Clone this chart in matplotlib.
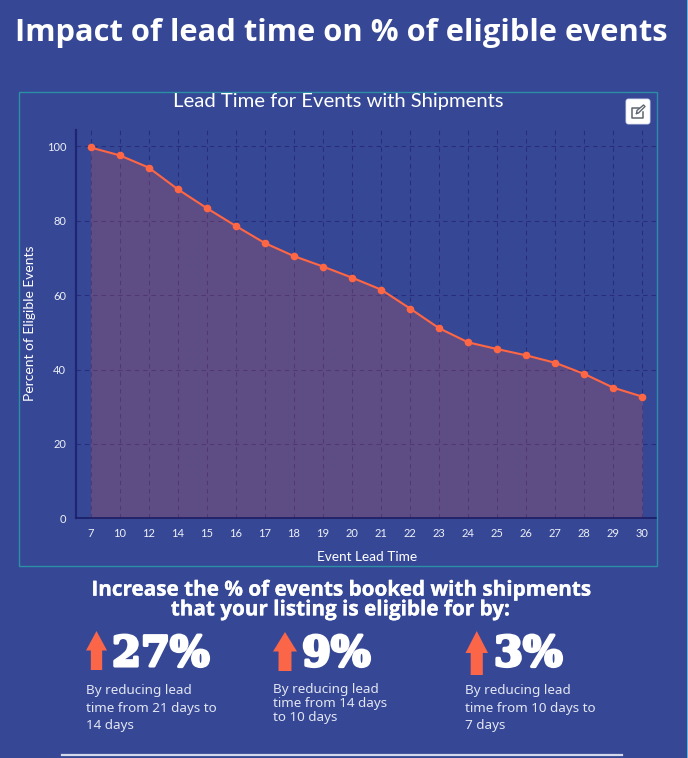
import matplotlib
matplotlib.use("Agg")
import matplotlib.pyplot as plt
import matplotlib.patheffects as pe
from matplotlib.patches import FancyBboxPatch, Polygon, Rectangle

BACKGROUND_COLOR = "#364895"
LINE_COLOR = "#ff6644"
GRID_COLOR = "#292c7c"
AXIS_COLOR = "#1f2474"
FRAME_COLOR = "#2b8fa8"
TEXT_COLOR = "#ffffff"
BODY_COLOR = "#e3e6f3"

lead_times = ["7", "10", "12", "14", "15", "16", "17", "18", "19", "20", "21", "22",
              "23", "24", "25", "26", "27", "28", "29", "30"]
pct_eligible = [99.7, 97.6, 94.3, 88.5, 83.4, 78.6, 74.0, 70.5, 67.7, 64.7, 61.5, 56.4,
                51.1, 47.3, 45.5, 43.8, 41.8, 38.8, 35.1, 32.7]
y_ticks = [0, 20, 40, 60, 80, 100]

stat_values = ["27%", "9%", "3%"]
stat_notes = ["By reducing lead\ntime from 21 days to\n14 days",
              "By reducing lead\ntime from 14 days\nto 10 days",
              "By reducing lead\ntime from 10 days to\n7 days"]

W, H = 688, 758


def add_arrow(ov, x0, x1, top, bottom):
    mid = (x0 + x1) / 2
    shaft = (x1 - x0) * 0.27
    neck = top + (bottom - top) * 0.5
    ov.add_patch(Polygon([(mid, top), (x1, neck), (mid + shaft, neck), (mid + shaft, bottom),
                          (mid - shaft, bottom), (mid - shaft, neck), (x0, neck)],
                         closed=True, facecolor="#fb6548", edgecolor="none"))


def add_edit_icon(ov):
    ov.add_patch(FancyBboxPatch((626, 99), 24, 25, boxstyle="round,pad=0,rounding_size=2.5",
                                facecolor="white", edgecolor="#dfe3ee", linewidth=0.6, zorder=5))
    ov.plot([639, 632, 632, 642.5, 642.5], [108, 108, 117.5, 117.5, 112],
            color="#5f6670", linewidth=1.1, zorder=6)
    ov.plot([636.5, 637, 643.5, 645, 638.5, 636.5], [113.5, 110.5, 105, 106.5, 113, 113.5],
            color="#5f6670", linewidth=1.0, zorder=6)


def make_chart():
    fig = plt.figure(figsize=(W / 100, H / 100), dpi=100)
    fig.patch.set_facecolor(BACKGROUND_COLOR)

    # plot area in pixels: x 76-657, y 130-518
    ax = fig.add_axes([76 / W, 1 - 518.3 / H, 581 / W, 388.3 / H])
    ax.set_facecolor("none")
    xs = list(range(len(lead_times)))
    ax.grid(True, color=GRID_COLOR, linewidth=0.8, linestyle=(0, (4, 3.5)), zorder=1)
    ax.set_axisbelow(True)
    # the area is the line colour at low alpha, so the grid shows through it
    ax.fill_between(xs, pct_eligible, 0, color=LINE_COLOR, alpha=0.2, linewidth=0, zorder=2)
    ax.plot(xs, pct_eligible, color=LINE_COLOR, linewidth=1.5, marker="o", markersize=5.5,
            markeredgewidth=0, zorder=4)
    ax.set_xlim(-0.5, len(lead_times) - 0.5)
    ax.set_ylim(0, 104.4)
    ax.set_xticks(xs)
    ax.set_xticklabels(lead_times)
    ax.set_yticks(y_ticks)
    ax.tick_params(axis="both", length=0, colors=TEXT_COLOR, labelsize=8, pad=7)
    for lab in ax.get_xticklabels() + ax.get_yticklabels():
        lab.set_family("Lato")
        lab.set_color("#eef0f8")
    for side in ["top", "right"]:
        ax.spines[side].set_visible(False)
    ax.spines["left"].set_color(AXIS_COLOR)
    ax.spines["left"].set_linewidth(1.6)
    ax.spines["bottom"].set_color("#1b1d66")
    ax.spines["bottom"].set_linewidth(1.2)

    # everything around the chart sits on an overlay in pixel coordinates
    ov = fig.add_axes([0, 0, 1, 1], zorder=3)
    ov.set_xlim(0, W)
    ov.set_ylim(H, 0)
    ov.set_axis_off()
    ov.patch.set_alpha(0)

    ov.add_patch(Rectangle((18.5, 91.5), 638, 474, fill=False, edgecolor=FRAME_COLOR, linewidth=1))
    ov.add_patch(Rectangle((686.5, 0), 1.5, H, facecolor="#59b9d6", edgecolor="none"))
    ov.plot([62, 622], [755, 755], color="#d4d9ec", linewidth=1.6)

    ov.text(341, 33, "Impact of lead time on % of eligible events", family="Open Sans",
            fontsize=22.2, fontweight="bold", color=TEXT_COLOR, ha="center", va="center")
    ov.text(338, 102, "Lead Time for Events with Shipments", family="Lato", fontsize=14.6,
            color=TEXT_COLOR, ha="center", va="center")
    ov.text(30.5, 323, "Percent of Eligible Events", family="Lato", fontsize=10,
            color=TEXT_COLOR, ha="center", va="center", rotation=90)
    ov.text(367, 557, "Event Lead Time", family="Lato", fontsize=9.8,
            color=TEXT_COLOR, ha="center", va="center")
    add_edit_icon(ov)

    ov.text(340, 600, "Increase the % of events booked with shipments\nthat your listing is eligible for by:",
            family="Open Sans", fontsize=14.9, fontweight="bold", color=TEXT_COLOR,
            ha="center", va="center", linespacing=0.92,
            path_effects=[pe.withStroke(linewidth=0.2, foreground=TEXT_COLOR)])

    arrows = [(86, 107, 631, 670), (273, 297, 632, 671), (465.5, 488, 631, 675)]
    stat_x = [112, 302, 494]
    note_x = [86, 273, 465]
    note_y = [692, 691, 692]
    note_gap = [1.46, 1.08, 1.46]
    for i, value in enumerate(stat_values):
        add_arrow(ov, *arrows[i])
        ov.text(stat_x[i], 654, value, family="DejaVu Serif", fontsize=30, fontweight="bold",
                color=TEXT_COLOR, ha="left", va="center",
                path_effects=[pe.withStroke(linewidth=2.2, foreground=TEXT_COLOR)])
        ov.text(note_x[i], note_y[i] - 8, stat_notes[i], family="Noto Sans", fontsize=9.7,
                color=BODY_COLOR, ha="left", va="top", linespacing=note_gap[i])

    fig.savefig("out.png", dpi=100, facecolor=BACKGROUND_COLOR)
    plt.close(fig)


if __name__ == "__main__":
    make_chart()
